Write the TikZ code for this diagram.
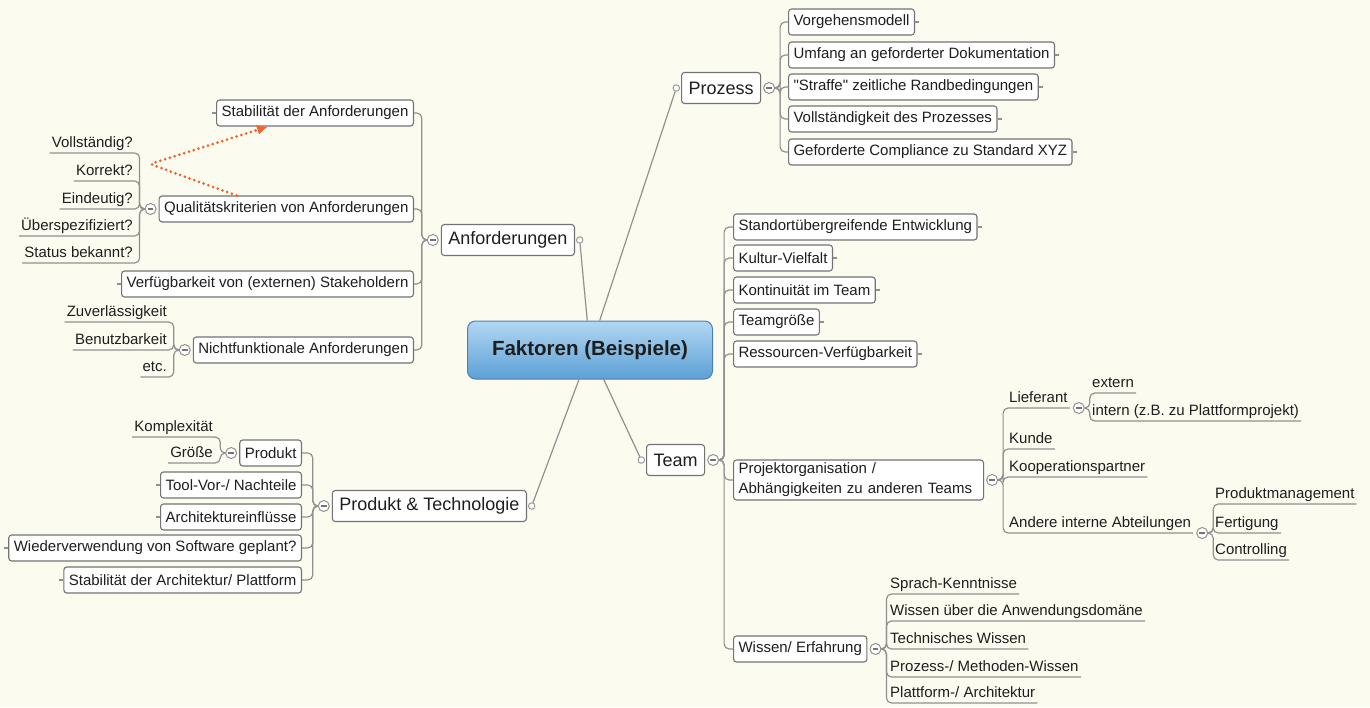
\documentclass[tikz,border=0pt]{standalone}
\usepackage{fontspec}
\setmainfont{Liberation Sans}
\usetikzlibrary{positioning,arrows.meta}

\font\quoteFont="Liberation Sans" at 15pt
\newcommand\plainQuote{{\quoteFont\char34}}

\definecolor{paper}{RGB}{252,251,239}
\definecolor{linegray}{RGB}{145,145,145}
\definecolor{framegray}{RGB}{115,115,115}
\definecolor{inkgray}{RGB}{30,30,30}
\definecolor{relred}{RGB}{240,100,45}
\definecolor{blueTop}{RGB}{178,215,242}
\definecolor{blueBot}{RGB}{92,160,214}
\definecolor{blueRim}{RGB}{78,128,178}

\begin{document}
\begin{tikzpicture}
[x=1pt, y=-1pt,
 topic/.style={draw=framegray, fill=white, line width=1.1pt, rounded corners=3pt,
   text=inkgray, font=\fontsize{15}{20}\selectfont, inner xsep=5pt, inner ysep=0pt,
   minimum height=26pt},
 mainTopic/.style={topic, font=\fontsize{18}{21}\selectfont, inner xsep=7pt,
   minimum height=31pt},
 centralTopic/.style={draw=blueRim, line width=1pt, rounded corners=8pt,
   top color=blueTop, bottom color=blueBot, text=inkgray,
   font=\fontsize{20.5}{24}\selectfont\bfseries, minimum width=245pt, minimum height=58pt},
 leaf/.style={text=inkgray, font=\fontsize{15}{18}\selectfont, inner xsep=2pt,
   inner ysep=1pt, text height=11pt, text depth=4pt},
 link/.style={draw=linegray, line width=1.2pt, rounded corners=5pt},
 minus/.style={circle, draw=linegray, fill=white, line width=1pt, minimum size=11pt,
   inner sep=0pt, path picture={\draw[linegray!80!black, line width=1.2pt]
     ([xshift=-2.8pt]path picture bounding box.center) --
     ([xshift=2.8pt]path picture bounding box.center);}},
 knob/.style={circle, draw=linegray, fill=white, line width=0.9pt, minimum size=6.5pt,
   inner sep=0pt},
 relation/.style={draw=relred, line width=3pt, line cap=round,
   dash pattern=on 0pt off 5pt, rounded corners=3pt}]

\fill[paper] (0,0) rectangle (1370,707);
\useasboundingbox (0,0) rectangle (1370,707);

%% central topic and main topics
\node[centralTopic] (faktoren) at (590,350) {Faktoren (Beispiele)};
\node[mainTopic, anchor=east] (anf) at (575,240) {Anforderungen};
\node[mainTopic, anchor=west] (proz) at (681,88) {Prozess};
\node[mainTopic, anchor=west] (team) at (646,460) {Team};
\node[mainTopic, anchor=east] (prodtech) at (527,506) {Produkt \& Technologie};

\node[knob, right=1pt of anf] (anfKnob) {};
\node[minus, left=2pt of anf] (anfMinus) {};
\node[knob, left=1pt of proz] (prozKnob) {};
\node[minus, right=2pt of proz] (prozMinus) {};
\node[knob, left=1pt of team] (teamKnob) {};
\node[minus, right=2pt of team] (teamMinus) {};
\node[knob, right=1pt of prodtech] (ptKnob) {};
\node[minus, left=2pt of prodtech] (ptMinus) {};

\foreach \k in {anfKnob, prozKnob, teamKnob, ptKnob}
  \draw[link] (\k) -- (faktoren);

%% Anforderungen
\foreach \name/\y/\txt in {stabAnf/113/Stabilität der Anforderungen,
  qualAnf/209/Qualitätskriterien von Anforderungen,
  verfAnf/284/Verfügbarkeit von (externen) Stakeholdern,
  nfAnf/350/Nichtfunktionale Anforderungen}
{
  \node[topic, anchor=east] (\name) at (414,\y) {\txt};
  \draw[link] (anfMinus.west) -- ++(-5,0) |- (\name.east);
}
\node[minus, left=2pt of qualAnf] (qualMinus) {};
\node[minus, left=2pt of nfAnf] (nfMinus) {};

\foreach \name/\y/\txt in {voll/153/Vollständig?, korr/181/Korrekt?,
  eind/209/Eindeutig?, ueber/236/Überspezifiziert?, status/263/Status bekannt?}
{
  \node[leaf, anchor=south east] (\name) at (135,\y) {\txt};
  \draw[link] (qualMinus.west) -- ++(-5,0) |- (\name.south west);
}
\foreach \name/\y/\txt in {zuver/322/Zuverlässigkeit, benutz/350/Benutzbarkeit,
  etc/377/etc.}
{
  \node[leaf, anchor=south east] (\name) at (169,\y) {\txt};
  \draw[link] (nfMinus.west) -- ++(-5,0) |- (\name.south west);
}

%% Prozess
\foreach \name/\y/\txt in {vorg/22/Vorgehensmodell,
  umfang/55/Umfang an geforderter Dokumentation,
  straffe/87/\plainQuote Straffe\plainQuote{} zeitliche Randbedingungen,
  vollProz/119/Vollständigkeit des Prozesses,
  compl/152/Geforderte Compliance zu Standard XYZ}
{
  \node[topic, anchor=west] (\name) at (788,\y) {\txt};
  \draw[link] (prozMinus.east) -- ++(5,0) |- (\name.west);
}

%% Team
\foreach \name/\y/\txt in {standort/227/Standortübergreifende Entwicklung,
  kultur/258/Kultur-Vielfalt, konti/290/Kontinuität im Team,
  groesse/322/Teamgröße, ressourcen/354/Ressourcen-Verfügbarkeit}
{
  \node[topic, anchor=west] (\name) at (733,\y) {\txt};
  \draw[link] (teamMinus.east) -- ++(5,0) |- (\name.west);
}
\node[topic, anchor=west, align=left, text width=240pt, inner ysep=3pt]
  (projorg) at (733,480) {Projektorganisation /\\Abhängigkeiten zu anderen Teams};
\node[topic, anchor=west] (wissen) at (733,649) {Wissen/ Erfahrung};
\foreach \name in {projorg, wissen}
  \draw[link] (teamMinus.east) -- ++(5,0) |- (\name.west);
\node[minus, right=2pt of projorg] (projMinus) {};
\node[minus, right=2pt of wissen] (wisMinus) {};

\foreach \name/\y/\txt in {lief/408/Lieferant, kunde/449/Kunde,
  koop/477/Kooperationspartner, andere/533/Andere interne Abteilungen}
{
  \node[leaf, anchor=south west] (\name) at (1007,\y) {\txt};
  \draw[link] (projMinus.east) -- ++(5,0) |- (\name.south east);
}
\node[minus, right=3pt of lief.south east] (liefMinus) {};
\node[minus, right=3pt of andere.south east] (andMinus) {};

\foreach \name/\y/\txt in {extern/393/extern,
  intern/421/intern (z.B. zu Plattformprojekt)}
{
  \node[leaf, anchor=south west] (\name) at (1090,\y) {\txt};
  \draw[link] (liefMinus.east) -- ++(5,0) |- (\name.south east);
}
\foreach \name/\y/\txt in {prodman/504/Produktmanagement, fert/533/Fertigung,
  contr/560/Controlling}
{
  \node[leaf, anchor=south west] (\name) at (1213,\y) {\txt};
  \draw[link] (andMinus.east) -- ++(5,0) |- (\name.south east);
}
\foreach \name/\y/\txt in {sprach/594/Sprach-Kenntnisse,
  anwend/621/Wissen über die Anwendungsdomäne, technik/649/Technisches Wissen,
  methoden/677/{Prozess-/ Methoden-Wissen}, plattform/703/{Plattform-/ Architektur}}
{
  \node[leaf, anchor=south west] (\name) at (888,\y) {\txt};
  \draw[link] (wisMinus.east) -- ++(5,0) |- (\name.south east);
}

%% Produkt & Technologie
\foreach \name/\y/\txt in {produkt/453/Produkt, tool/485/{Tool-Vor-/ Nachteile},
  archit/517/Architektureinflüsse, wieder/548/Wiederverwendung von Software geplant?,
  stabArch/580/{Stabilität der Architektur/ Plattform}}
{
  \node[topic, anchor=east] (\name) at (302,\y) {\txt};
  \draw[link] (ptMinus.west) -- ++(-5,0) |- (\name.east);
}
\node[minus, left=2pt of produkt] (produktMinus) {};
\foreach \name/\y/\txt in {komplex/437/Komplexität, groesseP/463/Größe}
{
  \node[leaf, anchor=south east] (\name) at (215,\y) {\txt};
  \draw[link] (produktMinus.west) -- ++(-5,0) |- (\name.south west);
}

%% stubs on the free side of boxes
\foreach \n in {stabAnf, verfAnf, tool, archit, wieder, stabArch}
  \draw[link] (\n.west) -- ++(-4,0);
\foreach \n in {vorg, umfang, straffe, vollProz, compl, standort, kultur, konti,
  groesse, ressourcen}
  \draw[link] (\n.east) -- ++(4,0);

%% relationship
\coordinate (relBend) at (150,164);
\draw[relation, -{Latex[length=11pt,width=10pt]}]
  ([xshift=78pt]qualAnf.north west) -- (relBend) -- ([xshift=52pt]stabAnf.south west);
\end{tikzpicture}
\end{document}
